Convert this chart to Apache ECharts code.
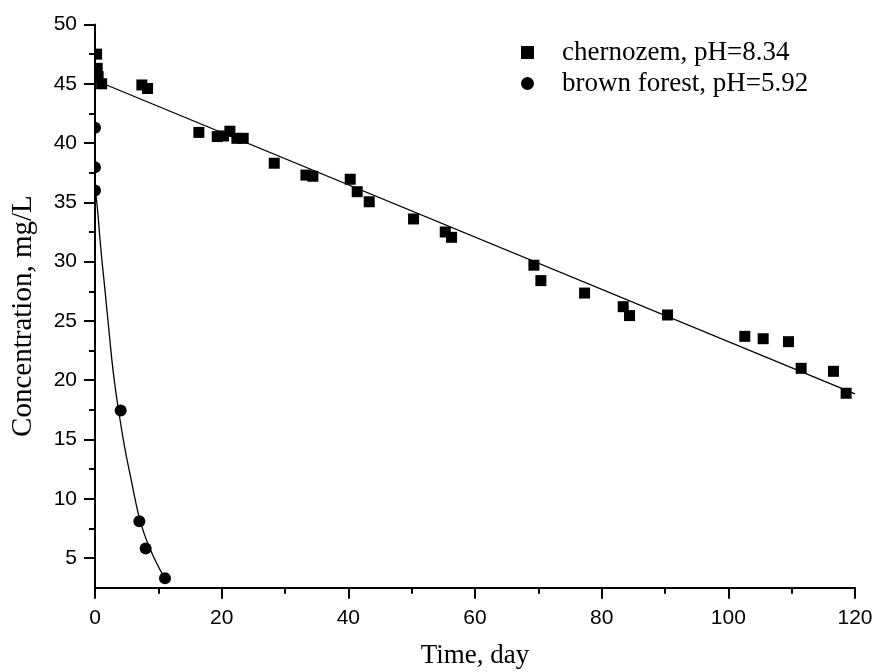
<!DOCTYPE html>
<html>
<head>
<meta charset="utf-8">
<script src="https://cdn.jsdelivr.net/npm/echarts@6/dist/echarts.min.js"></script>
<style>html,body{margin:0;padding:0;background:#fff}#c{width:876px;height:672px}</style>
</head>
<body>
<div id="c"></div>
<script>
// ---- data ----
const seriesNames = ['chernozem, pH=8.34', 'brown forest, pH=5.92'];
const chernozemDay  = [0.25,0.35,0.5,1.05,7.4,8.3,16.4,19.3,20.3,21.3,22.4,23.4,28.3,33.3,34.4,40.3,41.4,43.3,50.3,55.3,56.3,69.3,70.4,77.3,83.4,84.4,90.4,102.6,105.5,109.5,111.5,116.6,118.6];
const chernozemConc = [47.5,46.3,45.6,45.0,44.9,44.6,40.9,40.55,40.6,41.0,40.4,40.4,38.3,37.3,37.2,36.95,35.9,35.05,33.6,32.5,32.05,29.7,28.4,27.35,26.2,25.45,25.5,23.7,23.5,23.25,21.0,20.75,18.9];
const brownDay  = [0,0,0,4.05,7.0,8.0,11.05];
const brownConc = [41.3,37.95,36.0,17.45,8.1,5.8,3.3];
// fitted curves as drawn in the reference
const chernozemFitDay  = [0,120];
const chernozemFitConc = [45.3,18.85];
const brownFitDay  = [0,0.36,0.9,1.63,2.2,2.9,3.68,4.7,5.79,6.4,7.0,7.8,8.68,9.7,10.8];
const brownFitConc = [36.2,34.6,31.2,27.3,24.2,20.6,17.6,14.3,11.4,9.8,8.4,7.0,5.8,4.6,3.5];
// axes
const xTicks = [0,20,40,60,80,100,120];
const yTicks = [5,10,15,20,25,30,35,40,45,50];
const yMinorTicks = [7.5,12.5,17.5,22.5,27.5,32.5,37.5,42.5,47.5];
const xRange = [0,120];
const yRange = [2.5,50];

const zip = (a,b) => a.map((v,i)=>[v,b[i]]);
const chart = echarts.init(document.getElementById('c'), null, {renderer:'canvas'});
const axisFont = {fontFamily:'Liberation Sans, Arial, sans-serif', fontSize:21, color:'#000'};
const titleFont = {fontFamily:'Liberation Serif, Times New Roman, serif', fontSize:27, color:'#000'};

chart.setOption({
  animation:false,
  backgroundColor:'#fff',
  grid:{left:95,right:21,top:24.5,bottom:84.3,outerBoundsMode:'none',containLabel:false},
  legend:{
    data:[{name:seriesNames[0],icon:'rect'},{name:seriesNames[1],icon:'circle'}],
    orient:'vertical', left:516, top:34, itemWidth:13, itemHeight:13, itemGap:4,
    textStyle:{fontFamily:'Liberation Serif, Times New Roman, serif', fontSize:27, color:'#000', padding:[0,0,0,23], lineHeight:27},
    selectedMode:false
  },
  xAxis:{
    type:'value', min:xRange[0], max:xRange[1], interval:20, z:5,
    name:'Time, day', nameLocation:'middle', nameGap:55, nameTextStyle:titleFont,
    axisLine:{show:true,onZero:false,lineStyle:{color:'#000',width:2}},
    axisTick:{show:true,inside:false,length:11,lineStyle:{color:'#000',width:2}},
    minorTick:{show:true,splitNumber:2,length:6,lineStyle:{color:'#000',width:2}},
    axisLabel:{...axisFont, margin:20},
    splitLine:{show:false}
  },
  yAxis:[{
    type:'value', min:yRange[0], max:yRange[1], z:5,
    name:'Concentration, mg/L', nameLocation:'middle', nameGap:57, nameRotate:90,
    nameTextStyle:{...titleFont, fontSize:29, padding:[0,0,0,-20]},
    axisLine:{show:true,onZero:false,lineStyle:{color:'#000',width:2}},
    axisTick:{show:true,length:11,customValues:yTicks,lineStyle:{color:'#000',width:2}},
    axisLabel:{...axisFont, margin:18, customValues:yTicks},
    splitLine:{show:false}
  },{
    type:'value', min:yRange[0], max:yRange[1], position:'left', z:5,
    axisLine:{show:false},
    axisTick:{show:true,length:6,customValues:yMinorTicks,lineStyle:{color:'#000',width:2}},
    axisLabel:{show:false},
    splitLine:{show:false}
  }],
  series:[
    {name:'chernozem fit', type:'line', data:zip(chernozemFitDay,chernozemFitConc), showSymbol:false, symbol:'none',
     lineStyle:{color:'#000',width:1.3}, z:1, silent:true},
    {name:'brown fit', type:'line', data:zip(brownFitDay,brownFitConc), showSymbol:false, symbol:'none', smooth:0.5,
     lineStyle:{color:'#000',width:1.3}, z:1, silent:true},
    {name:seriesNames[0], type:'scatter', data:zip(chernozemDay,chernozemConc), symbol:'rect', symbolSize:11,
     itemStyle:{color:'#000',opacity:1}, z:2, clip:false},
    {name:seriesNames[1], type:'scatter', data:zip(brownDay,brownConc), symbol:'circle', symbolSize:12,
     itemStyle:{color:'#000',opacity:1}, z:2, clip:false}
  ]
});

// mask the half of the markers that falls left of the y axis (the reference clips to the plot area)
const x0 = chart.convertToPixel({xAxisIndex:0}, xRange[0]);
const yTop = chart.convertToPixel({yAxisIndex:0}, yRange[1]);
const yBot = chart.convertToPixel({yAxisIndex:0}, yRange[0]);
chart.setOption({
  graphic:[{type:'rect', z:3, silent:true,
    shape:{x:x0-12, y:yTop-10, width:11, height:yBot-yTop+10},
    style:{fill:'#fff'}}]
});
</script>
</body>
</html>
